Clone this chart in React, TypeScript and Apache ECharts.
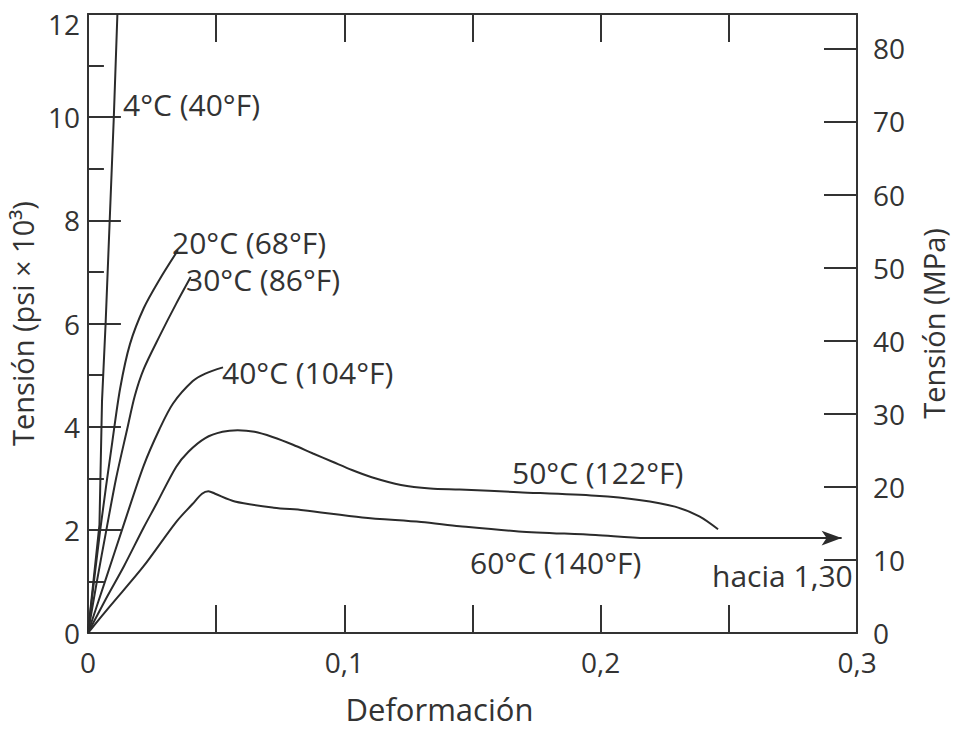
import React, { useEffect, useRef } from "react";
import * as echarts from "echarts";

// Strain (–) vs stress (psi × 10³)
const curve4C: [number, number][] = [[0, 0], [0.0045, 2.1], [0.0055, 4.5], [0.0069, 6], [0.0085, 8], [0.0101, 10], [0.0115, 12]];
const curve20C: [number, number][] = [[0, 0], [0.0048, 2.0], [0.0095, 3.7], [0.0126, 4.75], [0.0164, 5.6], [0.0218, 6.3], [0.0279, 6.85], [0.0351, 7.42]];
const curve30C: [number, number][] = [[0, 0], [0.0035, 1.0], [0.0072, 2.0], [0.011, 3.0], [0.0153, 3.95], [0.0183, 4.6], [0.0218, 5.12], [0.0279, 5.75], [0.0344, 6.38], [0.0401, 6.9]];
const curve40C: [number, number][] = [[0, 0], [0.007, 1.05], [0.0141, 2.12], [0.0218, 3.25], [0.0279, 3.95], [0.0332, 4.45], [0.0408, 4.88], [0.0458, 5.03], [0.0527, 5.15]];
const curve50C: [number, number][] = [[0, 0], [0.007, 0.66], [0.0141, 1.3], [0.0218, 2.05], [0.0267, 2.5], [0.0344, 3.22], [0.0393, 3.52], [0.0458, 3.78], [0.0525, 3.9], [0.0584, 3.93], [0.065, 3.9], [0.072, 3.8], [0.08, 3.65], [0.0878, 3.48], [0.0954, 3.32], [0.103, 3.16], [0.1107, 3.02], [0.1221, 2.87], [0.1335, 2.8], [0.145, 2.78], [0.168, 2.73], [0.198, 2.66], [0.215, 2.58], [0.229, 2.45], [0.2385, 2.26], [0.2458, 2.01]];
const curve60C: [number, number][] = [[0, 0], [0.0088, 0.53], [0.0218, 1.3], [0.0344, 2.15], [0.0408, 2.5], [0.0445, 2.7], [0.047, 2.75], [0.0496, 2.7], [0.0573, 2.55], [0.0725, 2.43], [0.084, 2.38], [0.107, 2.24], [0.13, 2.15], [0.145, 2.07], [0.168, 1.97], [0.198, 1.9], [0.2176, 1.84], [0.294, 1.84]];

const curveLabels = ["4°C (40°F)", "20°C (68°F)", "30°C (86°F)", "40°C (104°F)", "50°C (122°F)", "60°C (140°F)"];
const arrowNote = "hacia 1,30";
const xAxisTitle = "Deformación";
const leftAxisTitle = "Tensión (psi × 10³)";
const rightAxisTitle = "Tensión (MPa)";

const FONT = "Open Sans";
const INK = "#2b2b2b";
const TXT = "#333333";

export default function App() {
  const ref = useRef<HTMLDivElement>(null);
  useEffect(() => {
    if (!ref.current) return;
    const chart = echarts.init(ref.current, null, { renderer: "svg" });
    const lineStyle = { color: INK, width: 2 };
    const mkSeries = (data: any[], extra: any = {}) => ({
      type: "line",
      data,
      symbol: "none",
      smooth: 0.3,
      lineStyle,
      itemStyle: { color: INK },
      clip: true,
      silent: true,
      ...extra,
    });
    const last60 = curve60C[curve60C.length - 1];
    const data60: any[] = curve60C.slice(0, -1).map((p) => p);
    data60.push({ value: last60, symbol: "arrow", symbolSize: [11, 20], symbolRotate: -90, itemStyle: { color: INK } });

    const textStyle = { font: `30px "${FONT}"`, lineHeight: 30, fill: TXT, textVerticalAlign: "middle" };
    const labelPos: [number, number][] = [[123, 104], [172, 242], [186, 279], [222, 372], [512, 472], [470, 562]];

    const axisLine = { show: true, onZero: false, lineStyle: { color: "#333", width: 2 } };
    const tick = (len: number) => ({ show: true, inside: true, length: len, lineStyle: { color: "#333", width: 2 } });
    const nameStyle = { fontFamily: FONT, fontSize: 29, color: TXT };
    const option: any = {
      animation: false,
      backgroundColor: "#ffffff",
      grid: { left: 80, right: 90, top: 14, bottom: 88 },
      xAxis: [
        {
          type: "value",
          position: "bottom",
          min: 0,
          max: 0.3,
          interval: 0.05,
          axisLine,
          axisTick: tick(28),
          axisLabel: {
            fontFamily: FONT,
            fontSize: 28,
            color: TXT,
            margin: 15,
            formatter: (v: number) => {
              const k = Math.round(v * 100);
              if (k % 10 !== 0) return "";
              return k === 0 ? "0" : (k / 100).toFixed(1).replace(".", ",");
            },
          },
          splitLine: { show: false },
          name: xAxisTitle,
          nameLocation: "middle",
          nameGap: 60,
          nameTextStyle: { ...nameStyle, fontSize: 31, padding: [0, 66, 0, 0] },
        },
        {
          type: "value",
          position: "top",
          min: 0,
          max: 0.3,
          interval: 0.05,
          axisLine,
          axisTick: tick(28),
          axisLabel: { show: false },
          splitLine: { show: false },
        },
      ],
      yAxis: [
        {
          type: "value",
          position: "left",
          min: 0,
          max: 12,
          interval: 2,
          axisLine,
          axisTick: tick(33),
          minorTick: { show: true, splitNumber: 2, length: 16, lineStyle: { color: "#333", width: 2 } },
          axisLabel: {
            fontFamily: FONT,
            fontSize: 28,
            color: TXT,
            margin: 8,
            formatter: (v: number) => (v === 12 ? "{mx|12}" : String(v)),
            rich: { mx: { fontFamily: FONT, fontSize: 28, color: TXT, padding: [20, 0, 0, 0] } },
          },
          splitLine: { show: false },
          minorSplitLine: { show: false },
          name: leftAxisTitle,
          nameLocation: "middle",
          nameGap: 40,
          nameRotate: 90,
          nameTextStyle: nameStyle,
        },
        {
          type: "value",
          position: "right",
          min: 0,
          max: 84.7,
          interval: 10,
          axisLine,
          axisTick: tick(33),
          axisLabel: {
            fontFamily: FONT,
            fontSize: 28,
            color: TXT,
            margin: 16,
            showMaxLabel: false,
            formatter: (v: number) => (Math.abs(v % 10) < 1e-6 ? String(v) : ""),
          },
          splitLine: { show: false },
          name: rightAxisTitle,
          nameLocation: "middle",
          nameGap: 62,
          nameRotate: 90,
          nameTextStyle: nameStyle,
        },
      ],
      series: [
        mkSeries(curve4C, { smooth: false }),
        mkSeries(curve20C),
        mkSeries(curve30C),
        mkSeries(curve40C),
        mkSeries(curve50C),
        mkSeries(data60),
      ],
      graphic: [
        ...curveLabels.map((t, i) => ({
          type: "text",
          x: labelPos[i][0],
          y: labelPos[i][1],
          silent: true,
          style: { ...textStyle, text: t },
        })),
        { type: "text", x: 712, y: 575, silent: true, style: { ...textStyle, text: arrowNote } },
      ],
    };
    chart.setOption(option);
    return () => chart.dispose();
  }, []);
  return <div ref={ref} style={{ position: "absolute", left: 0, top: 0, width: 956, height: 729 }} />;
}
